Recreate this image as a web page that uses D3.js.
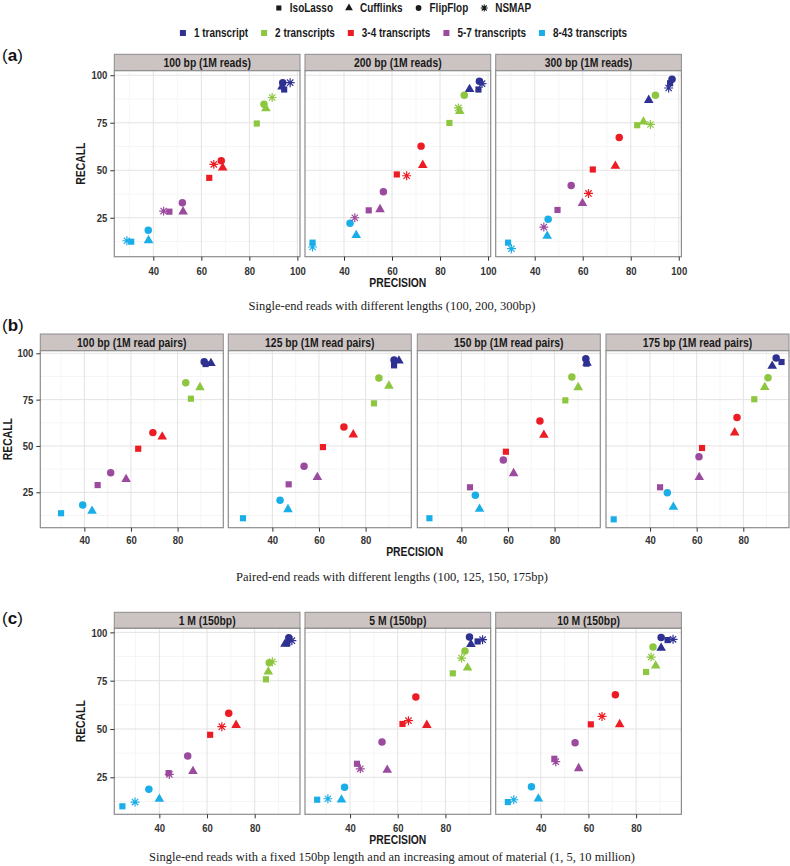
<!DOCTYPE html>
<html><head><meta charset="utf-8">
<script src="https://cdn.jsdelivr.net/npm/d3@7"></script>
<style>body{margin:0;background:#fff} svg{display:block}</style>
</head><body><svg id="c" width="790" height="866"></svg>
<script>
// ---------- DATA ----------
const methods = ["IsoLasso", "Cufflinks", "FlipFlop", "NSMAP"];
const groups = ["1 transcript", "2 transcripts", "3-4 transcripts", "5-7 transcripts", "8-43 transcripts"];
const groupColors = ["#2E3192", "#8DC63F", "#ED1C24", "#9B4A9E", "#1AAEE8"];
const xTicksA = [40, 60, 80, 100];
const xTicksBC = [40, 60, 80];
const yTicks = [25, 50, 75, 100];
const facetTitlesA = ["100 bp (1M reads)", "200 bp (1M reads)", "300 bp (1M reads)"];
const facetTitlesB = ["100 bp (1M read pairs)", "125 bp (1M read pairs)", "150 bp (1M read pairs)", "175 bp (1M read pairs)"];
const facetTitlesC = ["1 M (150bp)", "5 M (150bp)", "10 M (150bp)"];
const captions = [
  "Single-end reads with different lengths (100, 200, 300bp)",
  "Paired-end reads with different lengths (100, 125, 150, 175bp)",
  "Single-end reads with a fixed 150bp length and an increasing amout of material (1, 5, 10 million)"
];
// rows: IsoLasso, Cufflinks, FlipFlop, NSMAP ; columns: groups
const a100_prec = [[94.5, 83.1, 63.3, 46.7, 30.8], [93.6, 86.9, 68.9, 52.4, 38.0], [93.9, 86.1, 68.3, 52.1, 37.9], [97.0, 89.5, 65.2, 44.3, 29.0]];
const a100_rec  = [[92.5, 74.6, 46.0, 28.2, 12.4], [93.9, 82.5, 51.3, 28.2, 13.1], [96.1, 84.8, 55.0, 32.9, 18.4], [96.1, 88.3, 53.1, 28.5, 12.9]];
const a200_prec = [[96.0, 83.9, 62.0, 50.3, 26.9], [92.3, 88.2, 72.8, 55.0, 45.1], [96.4, 90.1, 72.1, 56.4, 42.5], [97.5, 87.6, 66.1, 44.5, 26.9]];
const a200_rec  = [[92.5, 74.9, 47.8, 28.9, 11.9], [92.6, 81.1, 52.7, 29.4, 15.8], [96.8, 89.5, 62.7, 38.7, 22.1], [95.6, 82.8, 47.1, 25.0, 9.6]];
const a300_prec = [[96.4, 82.7, 64.2, 49.5, 28.9], [87.5, 85.3, 73.6, 59.9, 45.2], [97.2, 90.3, 75.2, 55.2, 45.6], [95.8, 88.2, 62.4, 43.8, 30.3]];
const a300_rec  = [[95.8, 73.7, 50.4, 29.1, 11.9], [86.9, 75.5, 52.2, 32.6, 15.4], [97.9, 89.5, 67.3, 42.0, 24.2], [93.3, 74.1, 37.8, 20.1, 8.7]];
const b100_prec = [[92.0, 85.7, 63.1, 45.7, 30.0], [94.3, 89.6, 73.4, 57.9, 43.3], [91.4, 83.5, 69.4, 51.3, 39.3]];
const b100_rec  = [[94.2, 75.5, 48.5, 28.9, 13.7], [94.6, 81.6, 55.0, 32.0, 14.9], [95.5, 84.1, 57.2, 35.6, 18.1]];
const b125_prec = [[92.2, 83.6, 61.7, 47.0, 27.4], [94.3, 90.0, 74.7, 59.3, 46.7], [92.2, 85.7, 70.7, 53.6, 43.3]];
const b125_rec  = [[93.5, 73.0, 49.4, 29.3, 11.0], [96.0, 82.4, 56.1, 33.1, 15.8], [96.4, 86.7, 60.2, 39.0, 20.7]];
const b150_prec = [[93.7, 84.6, 59.1, 43.7, 26.3], [93.9, 90.1, 75.4, 62.4, 47.8], [93.4, 87.4, 73.7, 58.0, 46.0]];
const b150_rec  = [[94.4, 74.6, 46.9, 27.7, 11.0], [94.8, 81.6, 55.9, 35.2, 16.0], [97.1, 87.2, 63.5, 42.4, 23.4]];
const b175_prec = [[96.4, 84.7, 62.3, 44.3, 24.4], [92.4, 89.2, 76.3, 61.1, 50.0], [94.1, 90.6, 77.3, 61.0, 47.4]];
const b175_rec  = [[95.3, 75.2, 48.9, 27.7, 10.4], [93.1, 81.7, 57.2, 33.1, 17.1], [97.5, 86.8, 65.3, 44.2, 24.8]];
const c1_prec  = [[93.7, 84.7, 61.3, 43.9, 24.5], [92.7, 85.7, 72.2, 54.1, 40.0], [94.3, 86.1, 69.1, 51.9, 35.6], [95.6, 87.4, 66.2, 44.2, 29.8]];
const c1_rec   = [[94.3, 75.7, 47.0, 27.2, 10.0], [94.0, 79.6, 52.0, 28.1, 13.8], [97.2, 84.3, 58.1, 36.0, 18.8], [95.7, 84.8, 51.2, 26.5, 12.2]];
const c5_prec  = [[93.5, 83.1, 62.0, 42.9, 26.2], [90.7, 89.3, 72.2, 55.6, 36.4], [90.1, 88.2, 67.6, 53.4, 37.7], [95.6, 86.8, 64.5, 44.3, 30.7]];
const c5_rec   = [[95.3, 78.8, 52.6, 32.0, 13.4], [93.8, 81.7, 52.0, 28.8, 13.4], [97.6, 90.3, 66.5, 43.3, 19.8], [96.2, 86.7, 54.3, 29.4, 13.9]];
const c10_prec = [[93.2, 84.2, 61.0, 45.7, 26.2], [90.5, 88.2, 73.1, 55.9, 39.0], [90.5, 87.1, 71.3, 54.4, 36.1], [95.5, 86.3, 65.7, 46.3, 28.7]];
const c10_rec  = [[96.0, 79.5, 52.4, 34.6, 12.2], [91.9, 82.7, 52.4, 29.6, 13.9], [97.4, 92.4, 67.7, 42.9, 20.1], [96.4, 87.2, 56.5, 33.1, 13.4]];

// ---------- LAYOUT ----------
const panels = [
  { label: "a", labelY: 55, stripTop: 54.3, top: 70.7, bottom: 256.7, lefts: [114.3, 305, 495.7], width: 185.7,
    xDom: [23.75, 101.1], yDom: [4.5, 102.4], xTicks: xTicksA, titles: facetTitlesA,
    prec: [a100_prec, a200_prec, a300_prec], rec: [a100_rec, a200_rec, a300_rec],
    recallX: 81, tickLabY: 270.5, precY: 282.5, capY: 306, caption: captions[0] },
  { label: "b", labelY: 325, stripTop: 334, top: 350.7, bottom: 527.7, lefts: [40.3, 228.3, 417.3, 606], width: 183,
    xDom: [21.1, 99.6], yDom: [5.9, 101.4], xTicks: xTicksBC, titles: facetTitlesB,
    prec: [b100_prec, b125_prec, b150_prec, b175_prec], rec: [b100_rec, b125_rec, b150_rec, b175_rec],
    recallX: 8, tickLabY: 540, precY: 551.5, capY: 577, caption: captions[1] },
  { label: "c", labelY: 618, stripTop: 612.3, top: 628.3, bottom: 814.3, lefts: [114.3, 305, 495.7], width: 185.7,
    xDom: [21.1, 99.0], yDom: [5.86, 102.1], xTicks: xTicksBC, titles: facetTitlesC,
    prec: [c1_prec, c5_prec, c10_prec], rec: [c1_rec, c5_rec, c10_rec],
    recallX: 81, tickLabY: 828, precY: 840, capY: 857, caption: captions[2] }
];

const svg = d3.select("#c");
const SANS = "'Liberation Sans',Arial,Helvetica,sans-serif";
const SERIF = "'Liberation Serif','DejaVu Serif',serif";
const SX = 0.83; // condensed look

function label(parent, x, y, str, size, anchor, rot) {
  return parent.append("text")
    .attr("transform", `translate(${x},${y})${rot ? " rotate(" + rot + ")" : ""} scale(${SX},1)`)
    .attr("dy", "0.35em").attr("text-anchor", anchor || "start")
    .style("font-family", SANS).style("font-weight", "bold").style("font-size", size + "px")
    .attr("fill", "#1a1a1a").text(str);
}

const asterisk = {
  draw(ctx, size) {
    const r = Math.sqrt(size) / 2;
    const d = r * Math.SQRT1_2;
    ctx.moveTo(-r, 0); ctx.lineTo(r, 0);
    ctx.moveTo(0, -r); ctx.lineTo(0, r);
    ctx.moveTo(-d, -d); ctx.lineTo(d, d);
    ctx.moveTo(-d, d); ctx.lineTo(d, -d);
  }
};
const shapeTypes = [d3.symbolSquare, d3.symbolTriangle, d3.symbolCircle, asterisk];
const shapeSizes = [38, 40, 44, 80];

// ---------- LEGEND ----------
function legendRow(y, items, center) {
  const g = svg.append("g");
  let x = 0;
  const parts = [];
  items.forEach(it => {
    const t = label(g, 0, y, it.text, 12, "start");
    const w = t.node().getComputedTextLength() * SX;
    parts.push({ it, t, keyX: x, textX: x + 13, w });
    x += 13 + w + 14;
  });
  const total = x - 14;
  const off = center - total / 2;
  parts.forEach(p => {
    p.t.attr("transform", `translate(${off + p.textX},${y}) scale(${SX},1)`);
    const kx = off + p.keyX + 2;
    if (p.it.color) {
      g.append("rect").attr("x", kx - 3).attr("y", y - 3).attr("width", 6).attr("height", 6).attr("fill", p.it.color);
    } else {
      const path = g.append("path").attr("transform", `translate(${kx},${y})`)
        .attr("d", d3.symbol().type(shapeTypes[p.it.shape]).size(p.it.shape === 3 ? 50 : 26)());
      if (p.it.shape === 3) path.attr("fill", "none").attr("stroke", "#1a1a1a").attr("stroke-width", 1.1);
      else path.attr("fill", "#1a1a1a");
    }
  });
}
legendRow(8, methods.map((m, i) => ({ text: m, shape: i })), 404);
legendRow(33, groups.map((gname, i) => ({ text: gname, color: groupColors[i] })), 404);

// ---------- PANELS ----------
panels.forEach(P => {
  const g = svg.append("g");
  const lab = g.append("text").attr("x", 2).attr("y", P.labelY).attr("dy", "0.35em")
    .style("font-family", SANS).style("font-size", "17px").attr("fill", "#111");
  lab.append("tspan").text("(");
  lab.append("tspan").style("font-weight", "bold").text(P.label);
  lab.append("tspan").text(")");

  const y = d3.scaleLinear().domain(P.yDom).range([P.bottom, P.top]);
  const h = P.bottom - P.top;
  const yMinor = [12.5, 37.5, 62.5, 87.5].filter(v => v > P.yDom[0] && v < P.yDom[1]);

  P.lefts.forEach((left, fi) => {
    const x = d3.scaleLinear().domain(P.xDom).range([left, left + P.width]);
    const xMinor = [30, 50, 70, 90].filter(v => v > P.xDom[0] && v < P.xDom[1]);
    const fg = g.append("g");
    // strip
    fg.append("rect").attr("x", left).attr("y", P.stripTop).attr("width", P.width).attr("height", P.top - P.stripTop)
      .attr("fill", "#CCC4C2").attr("stroke", "#8c8c8c").attr("stroke-width", 1);
    label(fg, left + P.width / 2, (P.stripTop + P.top) / 2 + 0.3, P.titles[fi], 12.5, "middle");
    // panel background
    fg.append("rect").attr("x", left).attr("y", P.top).attr("width", P.width).attr("height", h).attr("fill", "#fff");
    // minor grid
    xMinor.forEach(v => fg.append("line").attr("x1", x(v)).attr("x2", x(v)).attr("y1", P.top).attr("y2", P.bottom)
      .attr("stroke", "#F2F2F2").attr("stroke-width", 0.8));
    yMinor.forEach(v => fg.append("line").attr("x1", left).attr("x2", left + P.width).attr("y1", y(v)).attr("y2", y(v))
      .attr("stroke", "#F2F2F2").attr("stroke-width", 0.8));
    // major grid
    P.xTicks.forEach(v => fg.append("line").attr("x1", x(v)).attr("x2", x(v)).attr("y1", P.top).attr("y2", P.bottom)
      .attr("stroke", "#E3E3E3").attr("stroke-width", 1));
    yTicks.forEach(v => fg.append("line").attr("x1", left).attr("x2", left + P.width).attr("y1", y(v)).attr("y2", y(v))
      .attr("stroke", "#E3E3E3").attr("stroke-width", 1));
    // points
    const prec = P.prec[fi], rec = P.rec[fi];
    const pts = [];
    prec.forEach((row, mi) => row.forEach((v, gi) => pts.push({ m: mi, g: gi, px: v, py: rec[mi][gi] })));
    fg.selectAll("path.pt").data(pts).join("path").attr("class", "pt")
      .attr("transform", d => `translate(${x(d.px)},${y(d.py)})`)
      .attr("d", d => d3.symbol().type(shapeTypes[d.m]).size(shapeSizes[d.m])())
      .attr("fill", d => d.m === 3 ? "none" : groupColors[d.g])
      .attr("stroke", d => d.m === 3 ? groupColors[d.g] : "none")
      .attr("stroke-width", d => d.m === 3 ? 1.2 : 0);
    // border
    fg.append("rect").attr("x", left).attr("y", P.top).attr("width", P.width).attr("height", h)
      .attr("fill", "none").attr("stroke", "#8c8c8c").attr("stroke-width", 1.2);
    // x axis
    const xa = fg.append("g").attr("transform", `translate(0,${P.bottom})`)
      .call(d3.axisBottom(x).tickValues(P.xTicks).tickSize(4).tickPadding(3).tickSizeOuter(0));
    xa.select(".domain").remove();
    xa.selectAll("line").attr("stroke", "#333");
    xa.selectAll("text").attr("y", null).attr("dy", "0.35em")
      .attr("transform", `translate(0,${P.tickLabY - P.bottom}) scale(${SX},1)`)
      .style("font-family", SANS).style("font-weight", "bold").style("font-size", "11.5px").attr("fill", "#333");
    if (fi === 0) {
      const ya = fg.append("g").attr("transform", `translate(${left},0)`)
        .call(d3.axisLeft(y).tickValues(yTicks).tickSize(4).tickPadding(3).tickSizeOuter(0));
      ya.select(".domain").remove();
      ya.selectAll("line").attr("stroke", "#333");
      ya.selectAll("text").attr("x", null).attr("transform", `translate(-7,0) scale(${SX},1)`)
        .style("font-family", SANS).style("font-weight", "bold").style("font-size", "11.5px").attr("fill", "#333");
    }
  });

  const L = P.lefts[0], R = P.lefts[P.lefts.length - 1] + P.width;
  label(g, (L + R) / 2, P.precY, "PRECISION", 12.5, "middle");
  label(g, P.recallX, (P.top + P.bottom) / 2, "RECALL", 12.5, "middle", -90);
  g.append("text").attr("x", 392).attr("y", P.capY).attr("dy", "0.35em").attr("text-anchor", "middle")
    .style("font-family", SERIF).style("font-size", "12.5px").attr("fill", "#222").text(P.caption);
});
</script></body></html>
